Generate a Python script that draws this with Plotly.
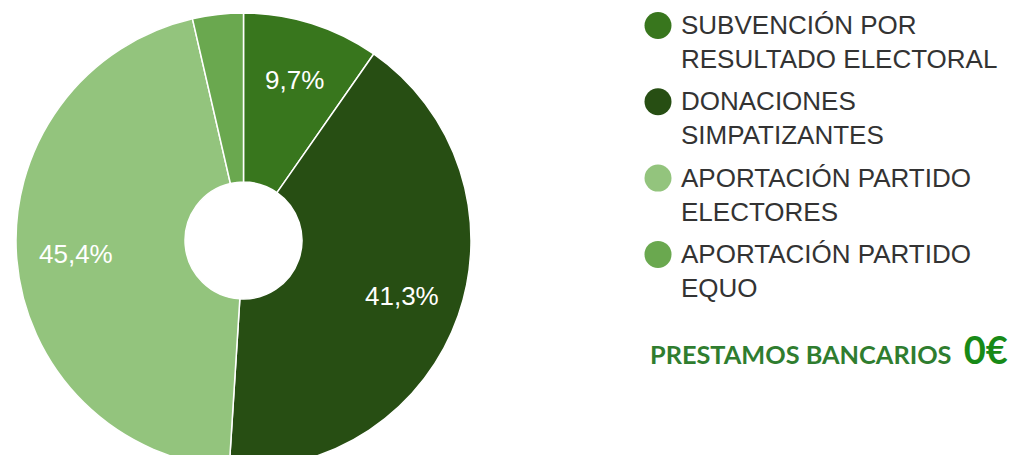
import math
import plotly.graph_objects as go

# ---- data ----
labels = ["SUBVENCIÓN POR RESULTADO ELECTORAL", "DONACIONES SIMPATIZANTES",
          "APORTACIÓN PARTIDO ELECTORES", "APORTACIÓN PARTIDO EQUO"]
legend_lines = [["SUBVENCIÓN POR", "RESULTADO ELECTORAL"],
                ["DONACIONES", "SIMPATIZANTES"],
                ["APORTACIÓN PARTIDO", "ELECTORES"],
                ["APORTACIÓN PARTIDO", "EQUO"]]
values = [9.7, 41.3, 45.4, 3.6]
colors = ["#38761d", "#274e13", "#93c47d", "#6aa84f"]
show_label = [True, True, True, False]
note_text = "PRESTAMOS BANCARIOS"
note_value = "0€"

W, H = 1013, 470
CX, CY, R = 243.5, 240.5, 227.5   # pie centre / radius in px
HOLE = 0.257
LABEL_R = 0.74

fig = go.Figure()
fig.add_trace(go.Pie(
    labels=labels, values=values, sort=False, direction="clockwise", rotation=0,
    hole=HOLE,
    marker=dict(colors=colors, line=dict(color="white", width=1.5)),
    textinfo="none",
    showlegend=False, hoverinfo="label+percent",
    domain=dict(x=[(CX - R) / W, (CX + R) / W], y=[1 - (CY + R) / H, 1 - (CY - R) / H]),
))

shapes = []
annotations = []

# percentage labels placed at the middle angle of each slice
total = sum(values)
cum = 0.0
for v, s in zip(values, show_label):
    mid = cum + v / 2
    cum += v
    if not s:
        continue
    ang = math.pi / 2 - 2 * math.pi * mid / total
    px = CX + LABEL_R * R * math.cos(ang)
    py = CY - LABEL_R * R * math.sin(ang)
    txt = f"{v / total * 100:.1f}".replace(".", ",") + "%"
    annotations.append(dict(xref="paper", yref="paper", x=px / W, y=1 - py / H,
                            xanchor="center", yanchor="middle", showarrow=False,
                            text=txt,
                            font=dict(family="Liberation Sans, Arial, sans-serif",
                                      size=26, color="white")))

# custom legend with round markers
for i, (lines, col) in enumerate(zip(legend_lines, colors)):
    cy = 25.5 + 76.3 * i
    shapes.append(dict(type="circle", xref="paper", yref="paper",
                       xsizemode="pixel", ysizemode="pixel",
                       xanchor=658 / W, yanchor=1 - cy / H,
                       x0=-13.5, x1=13.5, y0=-13.5, y1=13.5,
                       fillcolor=col, line=dict(width=0)))
    annotations.append(dict(xref="paper", yref="paper", x=679 / W, y=1 - (cy + 16.5) / H,
                            xanchor="left", yanchor="middle", align="left",
                            showarrow=False, text="<br>".join(lines),
                            font=dict(family="Liberation Sans, Arial, sans-serif",
                                      size=26, color="#333333")))

annotations.append(dict(xref="paper", yref="paper", x=648 / W, y=1 - 374 / H,
                        xanchor="left", yanchor="bottom", showarrow=False,
                        text=(f"<b>{note_text}\u00a0\u00a0<span style='font-size:38px;color:#178a17'>"
                              f"{note_value}</span></b>"),
                        font=dict(family="Lato, Open Sans, sans-serif", size=25.3, color="#2f7d2f")))

fig.update_layout(
    width=W, height=H, margin=dict(l=0, r=0, t=0, b=0),
    paper_bgcolor="white", plot_bgcolor="white",
    separators=",.",
    shapes=shapes, annotations=annotations,
)

fig.write_html("out.html", config={"displayModeBar": False},
               post_script="document.body.style.margin='0';document.body.style.overflow='hidden';")
